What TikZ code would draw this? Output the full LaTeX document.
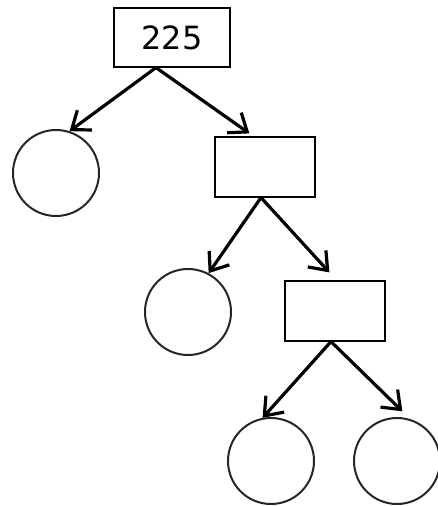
\documentclass[tikz,border=0pt]{standalone}
\usepackage{fontspec}
\setmainfont{DejaVu Sans}
\usetikzlibrary{arrows.meta}
\begin{document}
\begin{tikzpicture}[x=1pt,y=1pt,
  boxnode/.style={draw=black,line width=1.2pt,minimum width=116pt,minimum height=59pt,inner sep=0pt,fill=white},
  smallbox/.style={draw=black,line width=1.2pt,minimum width=100pt,minimum height=60pt,inner sep=0pt,fill=white},
  circnode/.style={draw=black!85,line width=2pt,circle,minimum size=86pt,inner sep=0pt},
  conn/.style={line width=3.2pt,-{Straight Barb[angle'=75,length=16pt,line width=3.2pt]}}]
\useasboundingbox (0,0) rectangle (438,-506);
\node[boxnode] (b1) at (172,-37.5) {\fontsize{32}{36}\selectfont 225};
\node[smallbox] (b2) at (265,-167) {};
\node[smallbox] (b3) at (335,-311) {};
\node[circnode] (c1) at (56,-173) {};
\node[circnode] (c2) at (188,-312) {};
\node[circnode] (c3) at (271,-461) {};
\node[circnode] (c4) at (397,-461) {};
\coordinate (t1) at ([xshift=35pt,yshift=3pt]b2.north west);
\coordinate (t2) at ([xshift=45pt,yshift=8pt]b3.north west);
\coordinate (t3) at ([yshift=6pt]c4.83);
\draw[conn] ([xshift=-16pt]b1.south) -- (c1.72);
\draw[conn] ([xshift=-16pt]b1.south) -- (t1);
\draw[conn] ([xshift=-4pt]b2.south) -- (c2.62);
\draw[conn] ([xshift=-4pt]b2.south) -- (t2);
\draw[conn] ([xshift=-4pt]b3.south) -- (c3.101);
\draw[conn] ([xshift=-4pt]b3.south) -- (t3);
\end{tikzpicture}
\end{document}
